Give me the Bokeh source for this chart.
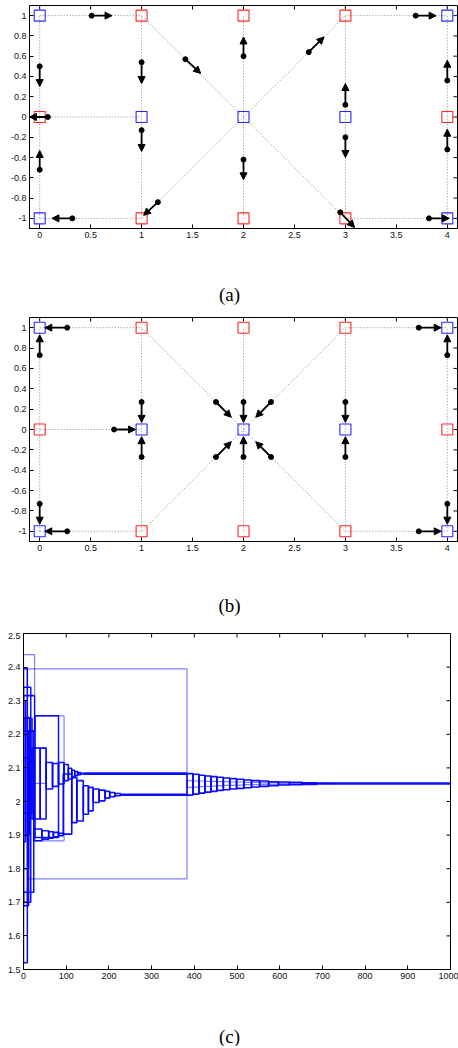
import math
from bokeh.plotting import figure
from bokeh.models import ColumnDataSource, Arrow, NormalHead, FixedTicker, Range1d
from bokeh.embed import file_html
from bokeh.resources import INLINE
from bokeh.core.properties import value

# ---------------- panels (a) and (b): graph on a 5x3 grid ----------------
node_x = [0, 1, 2, 3, 4, 0, 1, 2, 3, 4, 0, 1, 2, 3, 4]
node_y = [1, 1, 1, 1, 1, 0, 0, 0, 0, 0, -1, -1, -1, -1, -1]
node_color = ["blue", "red", "red", "red", "blue",
              "red", "blue", "blue", "blue", "red",
              "blue", "red", "red", "red", "blue"]

edge_x0 = [0, 3, 0, 0, 3, 0, 1, 2, 3, 4, 1, 1, 2, 2]
edge_y0 = [1, 1, 0, -1, -1, -1, -1, -1, -1, -1, 1, -1, 0, 0]
edge_x1 = [1, 4, 1, 1, 4, 0, 1, 2, 3, 4, 2, 2, 3, 3]
edge_y1 = [1, 1, 0, -1, -1, 1, 1, 1, 1, 1, 0, 0, 1, -1]

# arrows of panel (a): tail (x0, y0) -> head (x1, y1)
a_x0 = [0.51, 0, 1, 1.43, 0.08, 0, 1, 0.32, 1.16, 2, 2.64, 3.69, 3, 3, 4, 4, 2, 2.95, 3.82]
a_y0 = [1, 0.5, 0.54, 0.57, 0, -0.52, -0.13, -1, -0.84, 0.6, 0.64, 1, 0.12, -0.2, 0.36, -0.32, -0.42, -0.94, -1]
a_x1 = [0.71, 0, 1, 1.58, -0.1, 0, 1, 0.12, 1.02, 2, 2.79, 3.89, 3, 3, 4, 4, 2, 3.09, 4.02]
a_y1 = [1, 0.3, 0.33, 0.43, 0, -0.33, -0.34, -1, -0.97, 0.79, 0.79, 1, 0.33, -0.4, 0.56, -0.12, -0.62, -1.09, -1]

# arrows of panel (b)
b_x0 = [0.27, 0, 0, 0.27, 0.73, 1, 1, 1.73, 2.27, 1.73, 2.27, 2, 2, 3, 3, 3.72, 4, 4, 3.72]
b_y0 = [1, 0.73, -0.73, -1, 0, 0.27, -0.27, 0.27, 0.27, -0.27, -0.27, 0.27, -0.27, 0.27, -0.27, 1, 0.73, -0.73, -1]
b_x1 = [0.05, 0, 0, 0.05, 0.94, 1, 1, 1.88, 2.12, 1.88, 2.12, 2, 2, 3, 3, 3.94, 4, 4, 3.94]
b_y1 = [1, 0.93, -0.93, -1, 0, 0.07, -0.07, 0.12, 0.12, -0.12, -0.12, 0.07, -0.07, 0.07, -0.07, 1, 0.93, -0.93, -1]

ab_xticks = [0, 0.5, 1, 1.5, 2, 2.5, 3, 3.5, 4]
ab_xlabels = ["0", "0.5", "1", "1.5", "2", "2.5", "3", "3.5", "4"]
ab_yticks = [-1, -0.8, -0.6, -0.4, -0.2, 0, 0.2, 0.4, 0.6, 0.8, 1]
ab_ylabels = ["-1", "-0.8", "-0.6", "-0.4", "-0.2", "0", "0.2", "0.4", "0.6", "0.8", "1"]

# ---------------- panel (c): converging oscillations ----------------
c_xticks = [0, 100, 200, 300, 400, 500, 600, 700, 800, 900, 1000]
c_xlabels = ["0", "100", "200", "300", "400", "500", "600", "700", "800", "900", "1000"]
c_yticks = [1.5, 1.6, 1.7, 1.8, 1.9, 2.0, 2.1, 2.2, 2.3, 2.4, 2.5]
c_ylabels = ["1.5", "1.6", "1.7", "1.8", "1.9", "2", "2.1", "2.2", "2.3", "2.4", "2.5"]

# ladder R (final convergence): step edges, upper and lower levels
lad_R_x = [383, 397, 411, 425, 439, 453, 468, 483, 499, 516, 534, 553, 574, 597, 623, 652, 686, 725]
lad_R_hi = [2.083, 2.081, 2.078, 2.076, 2.074, 2.072, 2.070, 2.068, 2.066, 2.064, 2.062, 2.061, 2.059, 2.058, 2.057, 2.056, 2.055]
lad_R_lo = [2.019, 2.022, 2.025, 2.028, 2.030, 2.033, 2.035, 2.037, 2.039, 2.041, 2.043, 2.045, 2.047, 2.049, 2.050, 2.051, 2.052]
lad_Ri_hi = [2.062, 2.061, 2.061, 2.060, 2.060, 2.059, 2.059, 2.058, 2.058, 2.057, 2.057, 2.056, 2.056, 2.055, 2.055, 2.054, 2.054]
lad_Ri_lo = [2.042, 2.043, 2.044, 2.045, 2.046, 2.047, 2.048, 2.048, 2.049, 2.050, 2.050, 2.051, 2.051, 2.052, 2.052, 2.053, 2.053]

# ladder U (upper funnel converging to 2.083)
lad_U_x = [39, 53, 68, 82, 95, 105, 113, 120, 127, 134, 142]
lad_U_hi = [2.159, 2.116, 2.113, 2.116, 2.110, 2.099, 2.093, 2.089, 2.086, 2.084]
lad_U_lo = [1.948, 2.037, 2.045, 2.052, 2.062, 2.067, 2.073, 2.077, 2.080, 2.082]

# ladder DL (lower-left cluster, then lower funnel converging to 2.02)
lad_D_x = [24, 43, 59, 70, 82, 93, 113, 125, 140, 152, 163, 177, 191, 202, 214, 227]
lad_D_hi = [1.918, 1.913, 1.910, 1.908, 1.905, 2.082, 2.071, 2.062, 2.047, 2.042, 2.037, 2.034, 2.030, 2.027, 2.024]
lad_D_lo = [1.883, 1.888, 1.891, 1.895, 1.898, 1.903, 1.937, 1.942, 1.962, 1.972, 1.997, 2.002, 2.010, 2.014, 2.017]

# flat converged stretches
flat_x0 = [142, 227, 725]
flat_x1 = [383, 383, 1000]
flat_y = [2.083, 2.020, 2.0535]

# early single boxes (dark / light)
dk_x0 = [0, 0, 0, 0, 12, 20, 27, 0, 0, 5, 14, 0]
dk_x1 = [9, 17, 20, 26, 24, 39, 82, 12, 5, 14, 24, 12]
dk_lo = [1.52, 1.70, 1.965, 2.21, 1.73, 1.948, 1.893, 1.80, 1.88, 1.90, 1.95, 1.69]
dk_hi = [2.395, 2.34, 2.248, 2.315, 2.21, 2.159, 2.255, 2.13, 2.30, 2.25, 2.12, 1.73]

lt_x0 = [9, 0, 27, 0, 24]
lt_x1 = [383, 26, 95, 9, 53]
lt_lo = [1.77, 2.317, 1.883, 1.69, 2.054]
lt_hi = [2.395, 2.437, 2.255, 1.73, 2.159]

FONT = "Liberation Sans"
W = 458


def style_axis(ax, ticks, labels):
    ax.ticker = FixedTicker(ticks=ticks)
    ax.axis_line_color = "black"
    ax.axis_line_width = 1
    ax.major_tick_in = 4
    ax.major_tick_out = 0
    ax.major_tick_line_color = "black"
    ax.minor_tick_line_color = None
    ax.major_label_text_font = FONT
    ax.major_label_text_font_size = "9px"
    ax.major_label_text_color = "#111111"
    ax.major_label_overrides = {t: l for t, l in zip(ticks, labels)}
    ax.major_label_standoff = 3


def base_fig(h, x0, x1, y0, y1, bl, br, bt, bb, xt, xl, yt, yl):
    p = figure(width=W, height=h, x_range=Range1d(x0, x1), y_range=Range1d(y0, y1),
               output_backend="svg", toolbar_location=None,
               min_border_left=bl, min_border_right=br,
               min_border_top=bt, min_border_bottom=bb)
    p.grid.visible = False
    p.outline_line_color = "black"
    p.outline_line_width = 1
    p.background_fill_color = "white"
    style_axis(p.xaxis[0], xt, xl)
    style_axis(p.yaxis[0], yt, yl)
    # mirrored inward ticks on the top and right edges (half of each dash is clipped)
    p.scatter(x=xt, y=[y1] * len(xt), marker="dash", angle=math.pi / 2, size=8,
              line_color="black", line_width=1)
    p.scatter(x=[x1] * len(yt), y=yt, marker="dash", size=8,
              line_color="black", line_width=1)
    return p


def graph_panel(h, bt, bb, ax0, ay0, ax1, ay1):
    p = base_fig(h, -0.1, 4.1, -1.1, 1.1, 29, 1, bt, bb,
                 ab_xticks, ab_xlabels, ab_yticks, ab_ylabels)
    p.segment(x0=edge_x0, y0=edge_y0, x1=edge_x1, y1=edge_y1, line_color="#8a8a8a",
              line_dash="1 2", line_width=1)
    p.scatter(x=node_x, y=node_y, marker="square", size=11, fill_color=None,
              line_color=node_color, line_alpha=0.85, line_width=1.1)
    src = ColumnDataSource(dict(x0=ax0, y0=ay0, x1=ax1, y1=ay1))
    p.add_layout(Arrow(source=src, x_start="x0", y_start="y0", x_end="x1", y_end="y1",
                       line_color="black", line_width=1.8,
                       end=NormalHead(size=7, fill_color="black", line_color="black", line_width=1)))
    p.scatter(x=ax0, y=ay0, marker="circle", size=5, fill_color="black", line_color="black")
    return p


def caption(h, text, ymid):
    c = figure(width=W, height=h, x_range=Range1d(0, W), y_range=Range1d(0, h),
               output_backend="svg", toolbar_location=None, min_border=0,
               x_axis_type=None, y_axis_type=None)
    c.grid.visible = False
    c.outline_line_color = None
    c.text(x=[229], y=[h - ymid], text=[text], text_align="center", text_baseline="middle",
           text_font=value("Liberation Serif"), text_font_size="19px", text_color="black")
    return c


pa = graph_panel(245, 5, 17, a_x0, a_y0, a_x1, a_y1)
pb = graph_panel(241, 1, 16, b_x0, b_y0, b_x1, b_y1)

pc = base_fig(353, 0, 1000, 1.5, 2.5, 23, 8, 1, 16,
              c_xticks, c_xlabels, c_yticks, c_ylabels)


def ladder(p, xs, hi, lo, alpha, lw):
    p.quad(left=xs[:-1], right=xs[1:], bottom=lo, top=hi, fill_color=None,
           line_color="blue", line_alpha=alpha, line_width=lw)


p_lt = 0.5
p_dk = 0.95
pc.quad(left=lt_x0, right=lt_x1, bottom=lt_lo, top=lt_hi, fill_color=None,
        line_color="blue", line_alpha=p_lt, line_width=1.2)
pc.quad(left=dk_x0, right=dk_x1, bottom=dk_lo, top=dk_hi, fill_color=None,
        line_color="blue", line_alpha=p_dk, line_width=1.5)
ladder(pc, lad_U_x, lad_U_hi, lad_U_lo, p_dk, 1.6)
ladder(pc, lad_D_x, lad_D_hi, lad_D_lo, p_dk, 1.6)
ladder(pc, lad_R_x, lad_R_hi, lad_R_lo, p_dk, 1.6)
ladder(pc, lad_R_x, lad_Ri_hi, lad_Ri_lo, p_lt, 1.2)
pc.segment(x0=flat_x0, y0=flat_y, x1=flat_x1, y1=flat_y, line_color="blue",
           line_width=2.6, line_alpha=0.95)

cap_a = caption(71, "(a)", 49)
cap_b = caption(75, "(b)", 48)
cap_c = caption(61, "(c)", 51)

open("out.html", "w").write(file_html([pa, cap_a, pb, cap_b, pc, cap_c], INLINE))
